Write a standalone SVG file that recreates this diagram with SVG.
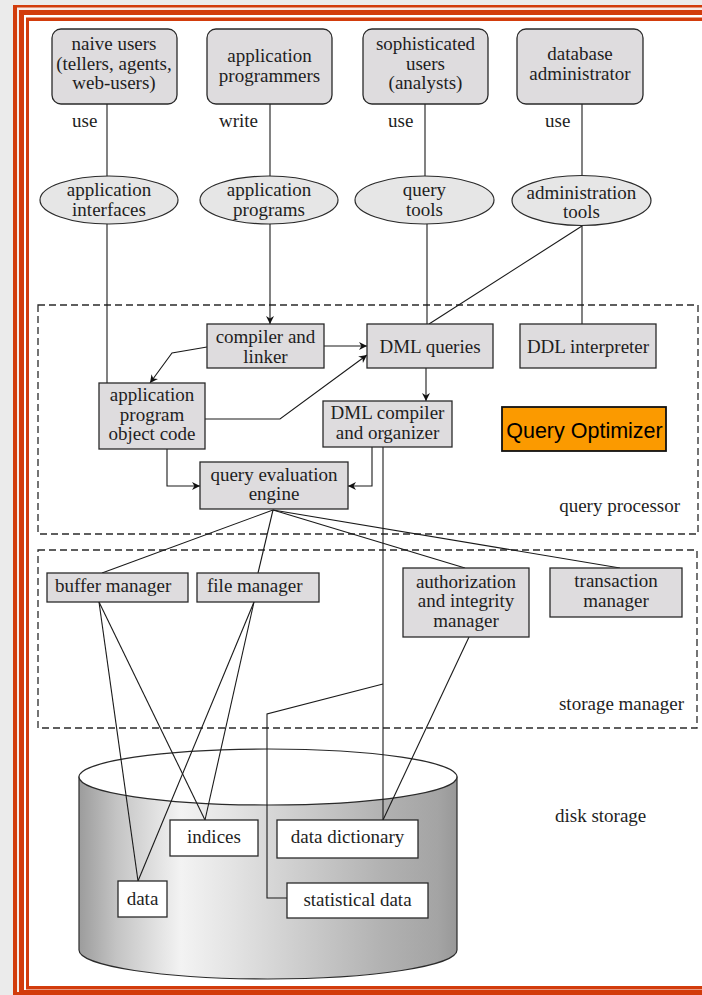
<svg xmlns="http://www.w3.org/2000/svg" width="702" height="995" viewBox="0 0 702 995">
<style>
.t{font-family:"Liberation Serif","Times New Roman",serif;font-size:19px;fill:#1e1e1e;text-anchor:middle}
.ts{font-family:"Liberation Serif","Times New Roman",serif;font-size:19px;fill:#1e1e1e}
.te{font-family:"Liberation Serif","Times New Roman",serif;font-size:19px;fill:#1e1e1e;text-anchor:end}
.rb{fill:#dedcde;stroke:#2a2a2a;stroke-width:1.3}
.el{fill:#e6e6e6;stroke:#2a2a2a;stroke-width:1.2}
.bx{fill:#dedcde;stroke:#2a2a2a;stroke-width:1.3}
.wb{fill:#fff;stroke:#2a2a2a;stroke-width:1.3}
.dash{fill:none;stroke:#2a2a2a;stroke-width:1.3;stroke-dasharray:7 4}
.c{fill:none;stroke:#1a1a1a;stroke-width:1.1}
.a{fill:none;stroke:#1a1a1a;stroke-width:1.1;marker-end:url(#ah)}
</style>
<defs>
<marker id="ah" viewBox="0 0 10 10" refX="10" refY="5" markerWidth="10" markerHeight="8" markerUnits="userSpaceOnUse" orient="auto">
<path d="M0,0 L10,5 L0,10 L3,5 z" fill="#111"/>
</marker>
<linearGradient id="cyl" x1="0" y1="0" x2="1" y2="0">
<stop offset="0" stop-color="#9c9c9c"/>
<stop offset="0.1" stop-color="#c4c4c4"/>
<stop offset="0.27" stop-color="#f3f3f3"/>
<stop offset="0.4" stop-color="#e4e4e4"/>
<stop offset="0.6" stop-color="#cbcbcb"/>
<stop offset="0.8" stop-color="#b2b2b2"/>
<stop offset="0.95" stop-color="#a4a4a4"/>
<stop offset="1" stop-color="#989898"/>
</linearGradient>
</defs>

<!-- background and frame -->
<rect x="0" y="0" width="702" height="995" fill="#ebebeb"/>
<rect x="13" y="5" width="700" height="995" fill="#d23c0c"/>
<rect x="17" y="7.5" width="700" height="984.5" fill="#f6ebe6"/>
<rect x="19" y="10" width="700" height="982" fill="#d23c0c"/>
<rect x="24" y="15" width="700" height="975" fill="#fff"/>
<rect x="26" y="17.5" width="700" height="972" fill="#d23c0c"/>
<rect x="29" y="21" width="700" height="965" fill="#fff"/>

<!-- dashed groupings -->
<g id="query-processor">
<rect class="dash" x="38" y="305" width="660" height="229"/>
<text class="te" x="680" y="512">query processor</text>
</g>
<g id="storage-manager">
<rect class="dash" x="38" y="550" width="659" height="178"/>
<text class="te" x="684" y="710">storage manager</text>
</g>

<!-- cylinder -->
<g id="disk-storage">
<path d="M79,777 L79,950 A189,29 0 0 0 457,950 L457,777 Z" fill="url(#cyl)" stroke="#2a2a2a" stroke-width="1.2"/>
<ellipse cx="268" cy="777" rx="189" ry="28" fill="#fff" stroke="#2a2a2a" stroke-width="1.2"/>
<text class="ts" x="555" y="822">disk storage</text>
</g>

<!-- connectors -->
<g id="connectors">
<line class="c" x1="107" y1="104" x2="107" y2="176"/>
<line class="c" x1="270" y1="104" x2="270" y2="176"/>
<line class="c" x1="425" y1="104" x2="425" y2="176"/>
<line class="c" x1="582" y1="104" x2="582" y2="175"/>
<line class="c" x1="107" y1="224" x2="107" y2="383"/>
<line class="a" x1="270" y1="224" x2="270" y2="324"/>
<line class="c" x1="427" y1="224" x2="427" y2="324"/>
<line class="c" x1="582" y1="226" x2="582" y2="324"/>
<line class="c" x1="582" y1="226" x2="429" y2="324"/>
<polyline class="a" points="207,347 172,353 150,383"/>
<line class="a" x1="324" y1="346" x2="367" y2="346"/>
<polyline class="a" points="205,419 280,419 367,355"/>
<line class="a" x1="426" y1="368" x2="426" y2="401"/>
<polyline class="a" points="167,449 167,486 200,486"/>
<polyline class="a" points="372,447 372,486 348,486"/>
<line class="c" x1="383" y1="447" x2="383" y2="820"/>
<polyline class="c" points="383,684 267,714 267,898 287,898"/>
<line class="c" x1="273" y1="510" x2="102" y2="573"/>
<line class="c" x1="273" y1="510" x2="258" y2="573"/>
<line class="c" x1="273" y1="510" x2="465" y2="568"/>
<line class="c" x1="273" y1="510" x2="620" y2="568"/>
<line class="c" x1="99" y1="602" x2="138" y2="881"/>
<line class="c" x1="99" y1="602" x2="205" y2="820"/>
<line class="c" x1="254" y1="602" x2="138" y2="881"/>
<line class="c" x1="254" y1="602" x2="205" y2="820"/>
<line class="c" x1="469" y1="637" x2="383" y2="820"/>
</g>

<!-- user nodes -->
<g id="naive-users">
<rect class="rb" x="52" y="29" width="125" height="75" rx="9"/>
<text class="t" x="114" y="50">naive users</text>
<text class="t" x="114" y="69.5">(tellers, agents,</text>
<text class="t" x="114" y="89">web-users)</text>
</g>
<g id="application-programmers">
<rect class="rb" x="207" y="29" width="125" height="75" rx="9"/>
<text class="t" x="269.5" y="62">application</text>
<text class="t" x="269.5" y="81.5">programmers</text>
</g>
<g id="sophisticated-users">
<rect class="rb" x="363" y="29" width="125" height="75" rx="9"/>
<text class="t" x="425.5" y="50">sophisticated</text>
<text class="t" x="425.5" y="69.5">users</text>
<text class="t" x="425.5" y="89">(analysts)</text>
</g>
<g id="database-administrator">
<rect class="rb" x="517" y="29" width="126" height="75" rx="9"/>
<text class="t" x="580" y="60">database</text>
<text class="t" x="580" y="79.5">administrator</text>
</g>

<!-- edge labels -->
<g id="labels">
<text class="ts" x="72" y="127">use</text>
<text class="ts" x="219" y="127">write</text>
<text class="ts" x="388" y="127">use</text>
<text class="ts" x="545" y="127">use</text>
</g>

<!-- tools -->
<g id="application-interfaces">
<ellipse class="el" cx="109" cy="200" rx="69" ry="24"/>
<text class="t" x="109" y="196">application</text>
<text class="t" x="109" y="215.5">interfaces</text>
</g>
<g id="application-programs">
<ellipse class="el" cx="269" cy="200" rx="69" ry="24"/>
<text class="t" x="269" y="196">application</text>
<text class="t" x="269" y="215.5">programs</text>
</g>
<g id="query-tools">
<ellipse class="el" cx="424.5" cy="200" rx="69.5" ry="24"/>
<text class="t" x="424.5" y="196">query</text>
<text class="t" x="424.5" y="215.5">tools</text>
</g>
<g id="administration-tools">
<ellipse class="el" cx="581.5" cy="200.5" rx="69.5" ry="25"/>
<text class="t" x="581.5" y="198.5">administration</text>
<text class="t" x="581.5" y="218">tools</text>
</g>

<!-- query processor components -->
<g id="compiler-and-linker">
<rect class="bx" x="207" y="324" width="117" height="44"/>
<text class="t" x="265.5" y="343">compiler and</text>
<text class="t" x="265.5" y="362.5">linker</text>
</g>
<g id="dml-queries">
<rect class="bx" x="367" y="324" width="126" height="44"/>
<text class="t" x="430" y="353">DML queries</text>
</g>
<g id="ddl-interpreter">
<rect class="bx" x="520" y="324" width="136" height="44"/>
<text class="t" x="588" y="353">DDL interpreter</text>
</g>
<g id="query-optimizer">
<rect x="502" y="407" width="164" height="44" fill="#fb9a00" stroke="#111" stroke-width="1.8"/>
<text x="584.5" y="437.5" font-family="Liberation Sans, Arial, sans-serif" font-size="21.5" fill="#000" text-anchor="middle">Query Optimizer</text>
</g>
<g id="application-program-object-code">
<rect class="bx" x="99" y="383" width="106" height="66"/>
<text class="t" x="152" y="401">application</text>
<text class="t" x="152" y="420.5">program</text>
<text class="t" x="152" y="440">object code</text>
</g>
<g id="dml-compiler-and-organizer">
<rect class="bx" x="323" y="401" width="129" height="46"/>
<text class="t" x="387.5" y="419">DML compiler</text>
<text class="t" x="387.5" y="438.5">and organizer</text>
</g>
<g id="query-evaluation-engine">
<rect class="bx" x="200" y="462" width="148" height="47"/>
<text class="t" x="274" y="480.5">query evaluation</text>
<text class="t" x="274" y="500">engine</text>
</g>

<!-- storage manager components -->
<g id="buffer-manager">
<rect class="bx" x="47" y="573" width="141" height="29"/>
<text class="ts" x="55" y="592">buffer manager</text>
</g>
<g id="file-manager">
<rect class="bx" x="197" y="573" width="122" height="29"/>
<text class="ts" x="207" y="592">file manager</text>
</g>
<g id="authorization-and-integrity-manager">
<rect class="bx" x="403" y="568" width="126" height="69"/>
<text class="t" x="466" y="587.5">authorization</text>
<text class="t" x="466" y="607">and integrity</text>
<text class="t" x="466" y="626.5">manager</text>
</g>
<g id="transaction-manager">
<rect class="bx" x="550" y="568" width="132" height="49"/>
<text class="t" x="616" y="587">transaction</text>
<text class="t" x="616" y="606.5">manager</text>
</g>

<!-- disk contents -->
<g id="indices">
<rect class="wb" x="170" y="820" width="88" height="36"/>
<text class="t" x="214" y="843">indices</text>
</g>
<g id="data-dictionary">
<rect class="wb" x="277" y="820" width="141" height="38"/>
<text class="t" x="347.5" y="843">data dictionary</text>
</g>
<g id="data">
<rect class="wb" x="118" y="881" width="49" height="36"/>
<text class="t" x="142.5" y="905">data</text>
</g>
<g id="statistical-data">
<rect class="wb" x="287" y="883" width="141" height="35"/>
<text class="t" x="357.5" y="906">statistical data</text>
</g>
</svg>
